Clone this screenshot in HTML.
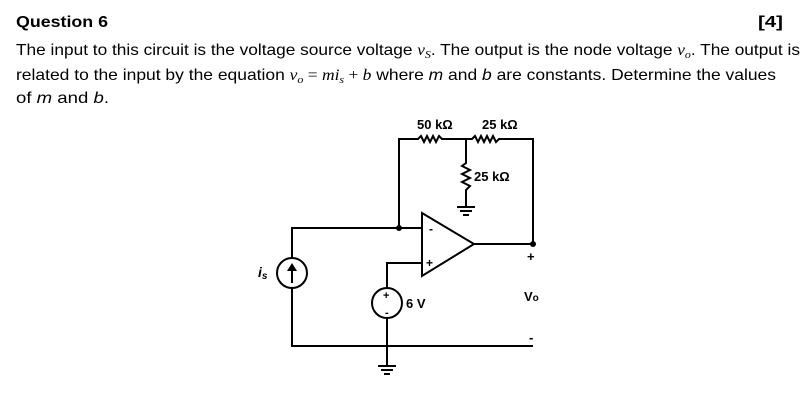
<!DOCTYPE html>
<html><head><style>
html,body{margin:0;padding:0;background:#fff;}
svg{display:block;}
text{font-family:"Liberation Sans",sans-serif;fill:#000;}
</style></head><body>
<svg width="802" height="404" viewBox="0 0 802 404">
<text x="16" y="27" font-size="16" font-weight="bold" textLength="92" lengthAdjust="spacingAndGlyphs">Question 6</text>
<text x="758" y="27" font-size="16" font-weight="bold" textLength="25" lengthAdjust="spacingAndGlyphs">[4]</text>
<text x="16" y="55" font-size="16" textLength="784" lengthAdjust="spacingAndGlyphs">The input to this circuit is the voltage source voltage <tspan font-family="Liberation Serif" font-style="italic">v<tspan font-size="11" dy="3">S</tspan></tspan><tspan dy="-3">. The output is the node voltage </tspan><tspan font-family="Liberation Serif" font-style="italic">v<tspan font-size="11" dy="3">o</tspan></tspan><tspan dy="-3">. The output is</tspan></text>
<text x="16" y="80" font-size="16" textLength="760" lengthAdjust="spacingAndGlyphs">related to the input by the equation <tspan font-family="Liberation Serif" font-style="italic">v<tspan font-size="11" dy="3">o</tspan></tspan><tspan dy="-3" font-family="Liberation Serif"> = </tspan><tspan font-family="Liberation Serif" font-style="italic">mi<tspan font-size="11" dy="3">s</tspan></tspan><tspan dy="-3" font-family="Liberation Serif"> + </tspan><tspan font-family="Liberation Serif" font-style="italic">b</tspan> where <tspan font-style="italic">m</tspan> and <tspan font-style="italic">b</tspan> are constants. Determine the values</text>
<text x="16" y="103" font-size="16" textLength="93" lengthAdjust="spacingAndGlyphs">of <tspan font-style="italic">m</tspan> and <tspan font-style="italic">b</tspan>.</text>

<g stroke="#000" stroke-width="2" fill="none">
<polyline points="399,228 399,139 418,139 421,136 424,142 427,136 430,142 433,136 436,142 439,136 442,139 472,139 475,136 478,142 481,136 484,142 487,136 490,142 493,136 496,142 499,139 533,139 533,244"/>
<polyline points="466,139 466,163 462,166 470,170 462,174 470,178 462,182 470,186 466,190 466,207"/>
<line x1="457" y1="207" x2="475" y2="207"/><line x1="460" y1="211" x2="472" y2="211"/><line x1="463" y1="215" x2="469" y2="215"/>
<polygon points="422,213 422,276 474,244"/>
<line x1="474" y1="244" x2="533" y2="244"/>
<polyline points="292,258 292,228 422,228"/>
<polyline points="292,288 292,346 533,346"/>
<circle cx="292" cy="273" r="15"/>
<line x1="292" y1="283" x2="292" y2="268"/>
<polyline points="387,288 387,263 422,263"/>
<circle cx="387" cy="303" r="15"/>
<line x1="387" y1="318" x2="387" y2="366"/>
<line x1="378" y1="366" x2="396" y2="366"/><line x1="381" y1="370" x2="393" y2="370"/><line x1="384" y1="374" x2="390" y2="374"/>
</g>
<polygon points="292,263 287,271 297,271" fill="#000"/>
<circle cx="399" cy="228" r="3" fill="#000"/>
<circle cx="533" cy="244" r="3" fill="#000"/>
<g font-size="13" font-weight="bold">
<text x="417" y="129">50 kΩ</text>
<text x="482" y="129">25 kΩ</text>
<text x="474" y="181">25 kΩ</text>
<text x="406" y="308">6 V</text>
<text x="524" y="301">V<tspan font-size="10">o</tspan></text>
<text x="527" y="261">+</text>
<text x="529" y="342">-</text>
<text x="429" y="233" font-size="12">-</text>
<text x="426" y="267" font-size="12">+</text>
<text x="383" y="299" font-size="11">+</text>
<text x="385" y="316" font-size="11">-</text>
</g>
<text x="258" y="277" font-size="14" font-style="italic" font-weight="bold">i<tspan font-size="10" dy="2">s</tspan></text>
</svg>
</body></html>
